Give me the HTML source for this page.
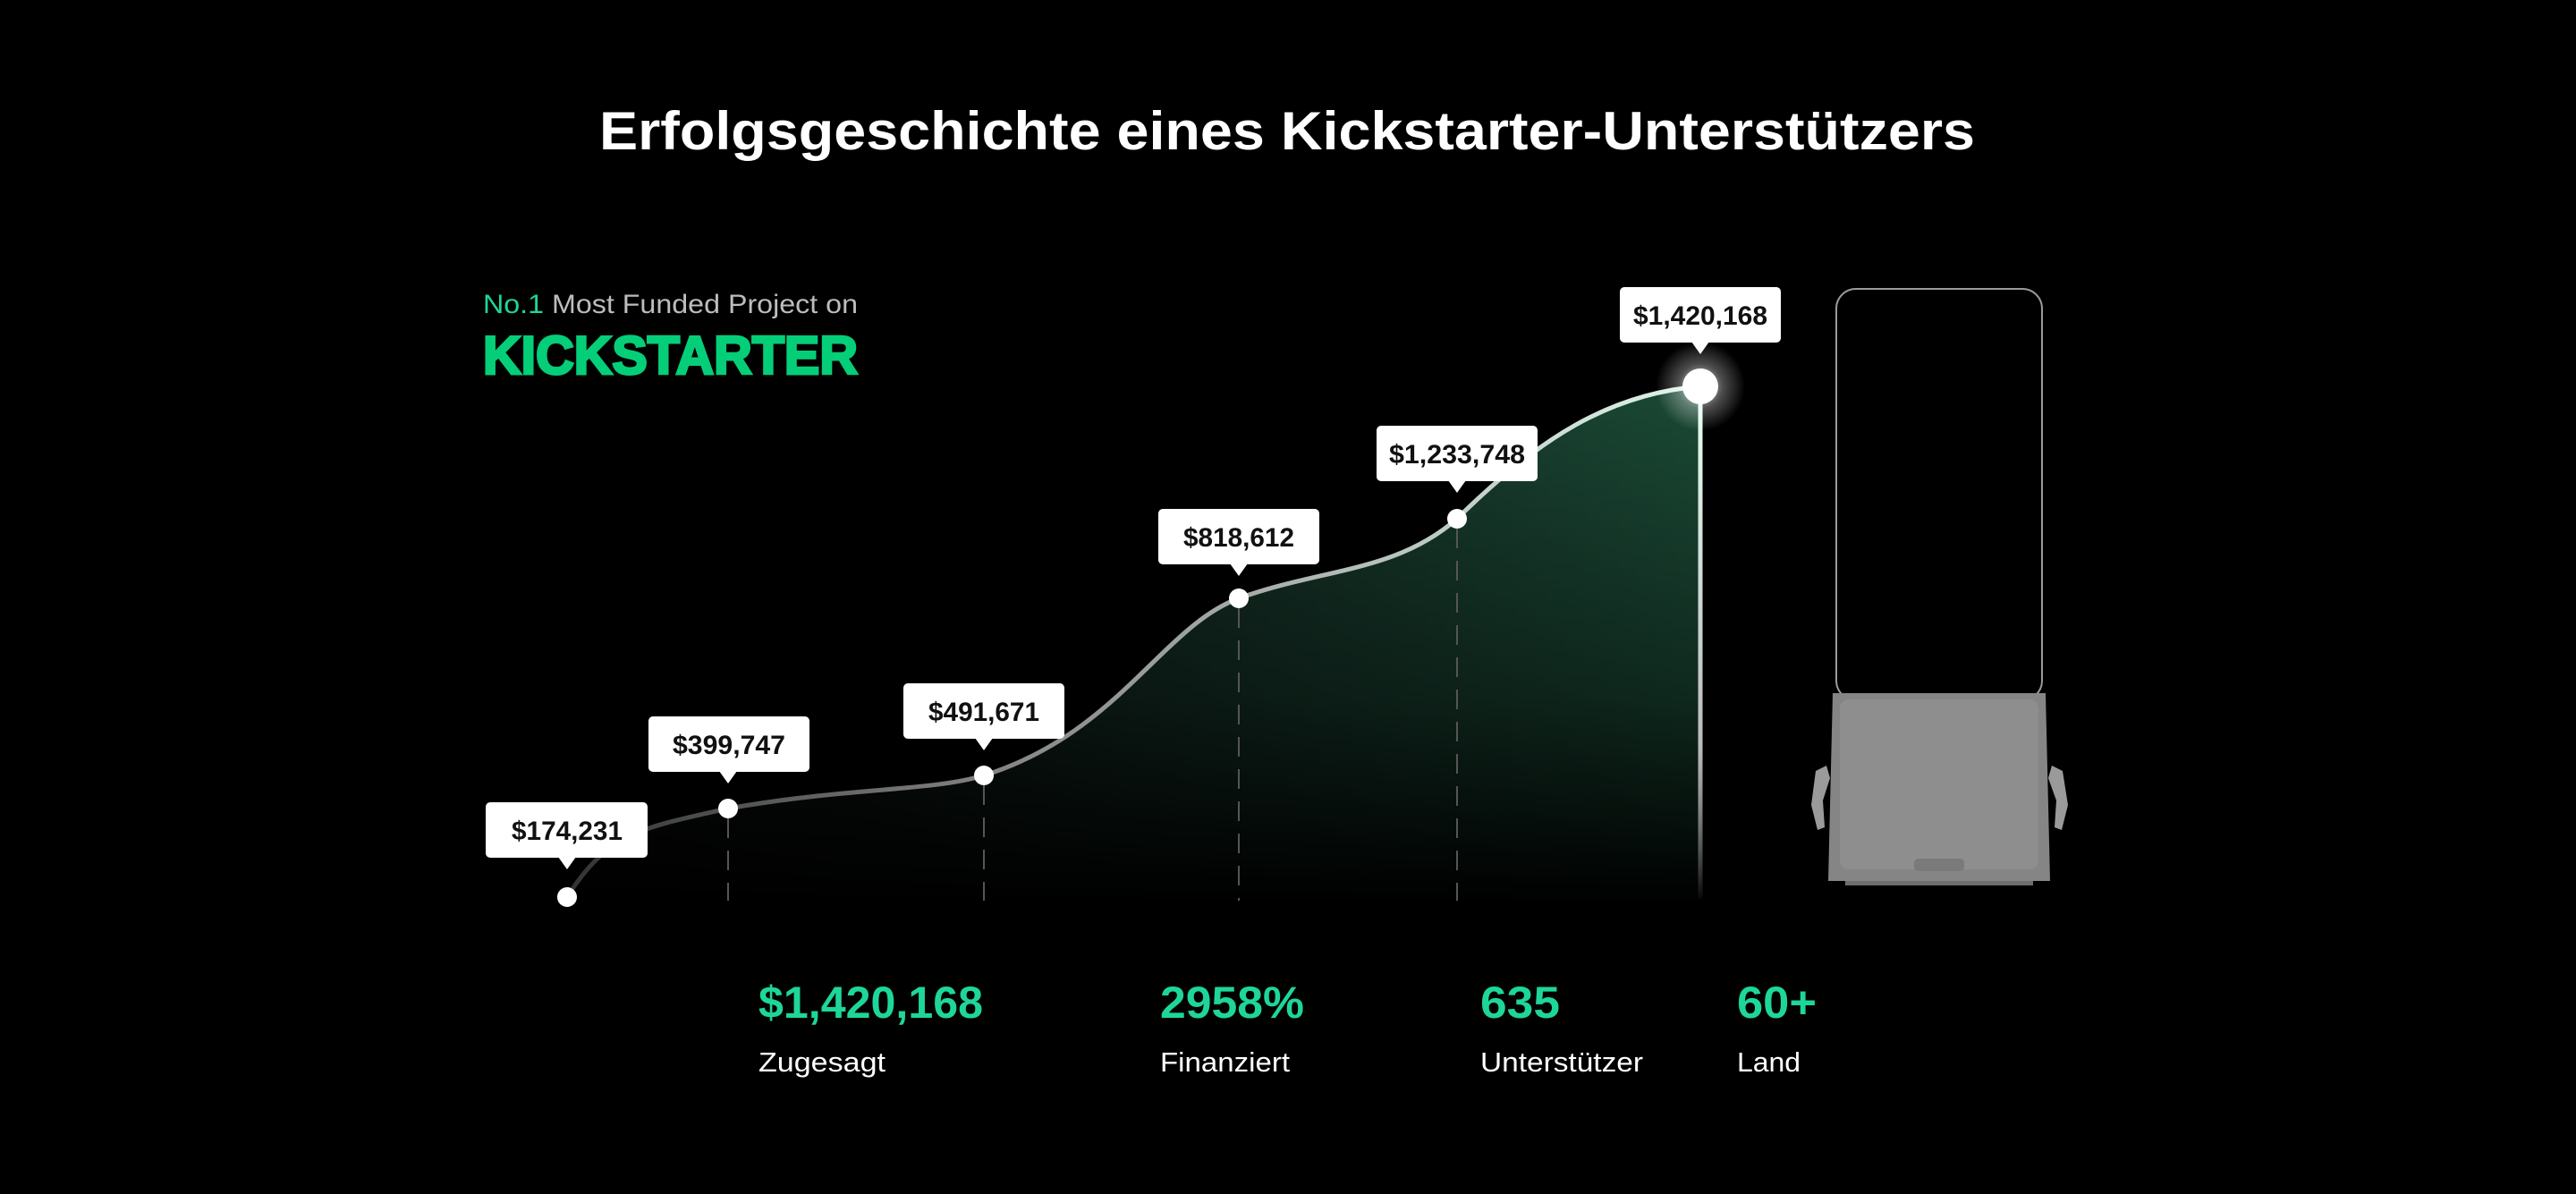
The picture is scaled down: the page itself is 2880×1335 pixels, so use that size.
<!DOCTYPE html>
<html><head><meta charset="utf-8"><style>
html,body{margin:0;padding:0;background:#000;}
svg{display:block}
text{font-family:"Liberation Sans",sans-serif;}
</style></head><body>
<svg width="2880" height="1335" viewBox="0 0 2880 1335" xmlns="http://www.w3.org/2000/svg">
<defs>
<linearGradient id="areaH" x1="634" y1="0" x2="1901" y2="0" gradientUnits="userSpaceOnUse">
<stop offset="0" stop-color="#111" stop-opacity="0.6"/>
<stop offset="0.5" stop-color="#132a22"/>
<stop offset="1" stop-color="#1b4a36"/>
</linearGradient>
<linearGradient id="fadeV" x1="0" y1="430" x2="0" y2="1010" gradientUnits="userSpaceOnUse">
<stop offset="0" stop-color="#fff" stop-opacity="1"/>
<stop offset="0.6" stop-color="#fff" stop-opacity="0.55"/>
<stop offset="1" stop-color="#fff" stop-opacity="0"/>
</linearGradient>
<mask id="m"><rect x="0" y="0" width="2880" height="1335" fill="url(#fadeV)"/></mask>
<linearGradient id="lineG" x1="634" y1="0" x2="1901" y2="0" gradientUnits="userSpaceOnUse">
<stop offset="0" stop-color="#333"/>
<stop offset="0.4" stop-color="#888"/>
<stop offset="1" stop-color="#dff5ea"/>
</linearGradient>
<linearGradient id="vline" x1="0" y1="432" x2="0" y2="1010" gradientUnits="userSpaceOnUse">
<stop offset="0" stop-color="#e8fff4"/>
<stop offset="0.7" stop-color="#bbb"/>
<stop offset="1" stop-color="#fff" stop-opacity="0"/>
</linearGradient>
<radialGradient id="glow"><stop offset="0" stop-color="#fff" stop-opacity="0.9"/><stop offset="0.5" stop-color="#fff" stop-opacity="0.3"/><stop offset="1" stop-color="#fff" stop-opacity="0"/></radialGradient>
</defs>

<text x="1439" y="167" text-anchor="middle" font-size="60" font-weight="bold" fill="#fff" textLength="1538" lengthAdjust="spacingAndGlyphs">Erfolgsgeschichte eines Kickstarter-Unterstützers</text>

<text x="540" y="350" font-size="30" fill="#bdbdbd" textLength="419" lengthAdjust="spacingAndGlyphs"><tspan fill="#1ed69a">No.1</tspan> Most Funded Project on</text>
<text x="540" y="418" font-size="60" font-weight="bold" fill="#05ce78" stroke="#05ce78" stroke-width="3" textLength="419" lengthAdjust="spacingAndGlyphs">KICKSTARTER</text>

<!-- area -->
<path mask="url(#m)" fill="url(#areaH)" d="M634,1003 C680,930 720,925 814,904 C950,880 1040,885 1100,867 C1250,820 1300,700 1385,669 C1480,635 1560,640 1629,580 C1720,490 1800,440 1901,432 L1901,1010 L634,1010 Z"/>
<!-- dashed lines -->
<g stroke="#555" stroke-width="2" stroke-dasharray="22,14">
<line x1="814" y1="915" x2="814" y2="1007"/>
<line x1="1100" y1="878" x2="1100" y2="1007"/>
<line x1="1385" y1="680" x2="1385" y2="1007"/>
<line x1="1629" y1="591" x2="1629" y2="1007"/>
</g>
<line x1="1901" y1="432" x2="1901" y2="1005" stroke="url(#vline)" stroke-width="5"/>
<path fill="none" stroke="url(#lineG)" stroke-width="5" d="M634,1003 C680,930 720,925 814,904 C950,880 1040,885 1100,867 C1250,820 1300,700 1385,669 C1480,635 1560,640 1629,580 C1720,490 1800,440 1901,432"/>
<g fill="#fff">
<circle cx="634" cy="1003" r="11"/>
<circle cx="814" cy="904" r="11"/>
<circle cx="1100" cy="867" r="11"/>
<circle cx="1385" cy="669" r="11"/>
<circle cx="1629" cy="580" r="11"/>
<circle cx="1901" cy="432" r="50" fill="url(#glow)"/>
<circle cx="1901" cy="432" r="20"/>
</g>

<!-- tooltips -->
<g fill="#fff">
<rect x="543" y="897" width="181" height="62" rx="5"/><path d="M624,958 L644,958 L634,972 Z"/>
<rect x="725" y="801" width="180" height="62" rx="5"/><path d="M804,862 L824,862 L814,876 Z"/>
<rect x="1010" y="764" width="180" height="62" rx="5"/><path d="M1090,825 L1110,825 L1100,839 Z"/>
<rect x="1295" y="569" width="180" height="62" rx="5"/><path d="M1375,630 L1395,630 L1385,644 Z"/>
<rect x="1539" y="476" width="180" height="62" rx="5"/><path d="M1619,537 L1639,537 L1629,551 Z"/>
<rect x="1811" y="321" width="180" height="62" rx="5"/><path d="M1891,382 L1911,382 L1901,396 Z"/>
</g>
<g font-size="30" font-weight="bold" fill="#111" text-anchor="middle">
<text x="634" y="939" textLength="124" lengthAdjust="spacingAndGlyphs">$174,231</text>
<text x="815" y="843" textLength="126" lengthAdjust="spacingAndGlyphs">$399,747</text>
<text x="1100" y="806" textLength="124" lengthAdjust="spacingAndGlyphs">$491,671</text>
<text x="1385" y="611" textLength="124" lengthAdjust="spacingAndGlyphs">$818,612</text>
<text x="1629" y="518" textLength="152" lengthAdjust="spacingAndGlyphs">$1,233,748</text>
<text x="1901" y="363" textLength="150" lengthAdjust="spacingAndGlyphs">$1,420,168</text>
</g>

<!-- device -->
<rect x="2053" y="323" width="230" height="460" rx="22" fill="none" stroke="#9a9a9a" stroke-width="2"/>
<path d="M2049,775 L2287,775 L2292,985 L2044,985 Z" fill="#858585"/>
<rect x="2057" y="782" width="222" height="190" rx="10" fill="#8e8e8e"/>
<rect x="2140" y="960" width="56" height="14" rx="5" fill="#7a7a7a"/>
<rect x="2063" y="985" width="210" height="5" fill="#6e6e6e"/>
<path d="M2042,856 L2030,862 L2025,900 L2032,928 L2040,925 L2038,895 L2046,870 Z" fill="#9a9a9a"/>
<path d="M2294,856 L2306,862 L2312,900 L2305,928 L2297,925 L2299,895 L2290,870 Z" fill="#9a9a9a"/>

<!-- stats -->
<g font-size="50" font-weight="bold" fill="#1ed69a">
<text x="848" y="1138" textLength="251" lengthAdjust="spacingAndGlyphs">$1,420,168</text>
<text x="1297" y="1138" textLength="161" lengthAdjust="spacingAndGlyphs">2958%</text>
<text x="1655" y="1138" textLength="89" lengthAdjust="spacingAndGlyphs">635</text>
<text x="1942" y="1138" textLength="89" lengthAdjust="spacingAndGlyphs">60+</text>
</g>
<g font-size="31" fill="#fff">
<text x="848" y="1198" textLength="142" lengthAdjust="spacingAndGlyphs">Zugesagt</text>
<text x="1297" y="1198" textLength="145" lengthAdjust="spacingAndGlyphs">Finanziert</text>
<text x="1655" y="1198" textLength="182" lengthAdjust="spacingAndGlyphs">Unterstützer</text>
<text x="1942" y="1198" textLength="71" lengthAdjust="spacingAndGlyphs">Land</text>
</g>
</svg>
</body></html>
